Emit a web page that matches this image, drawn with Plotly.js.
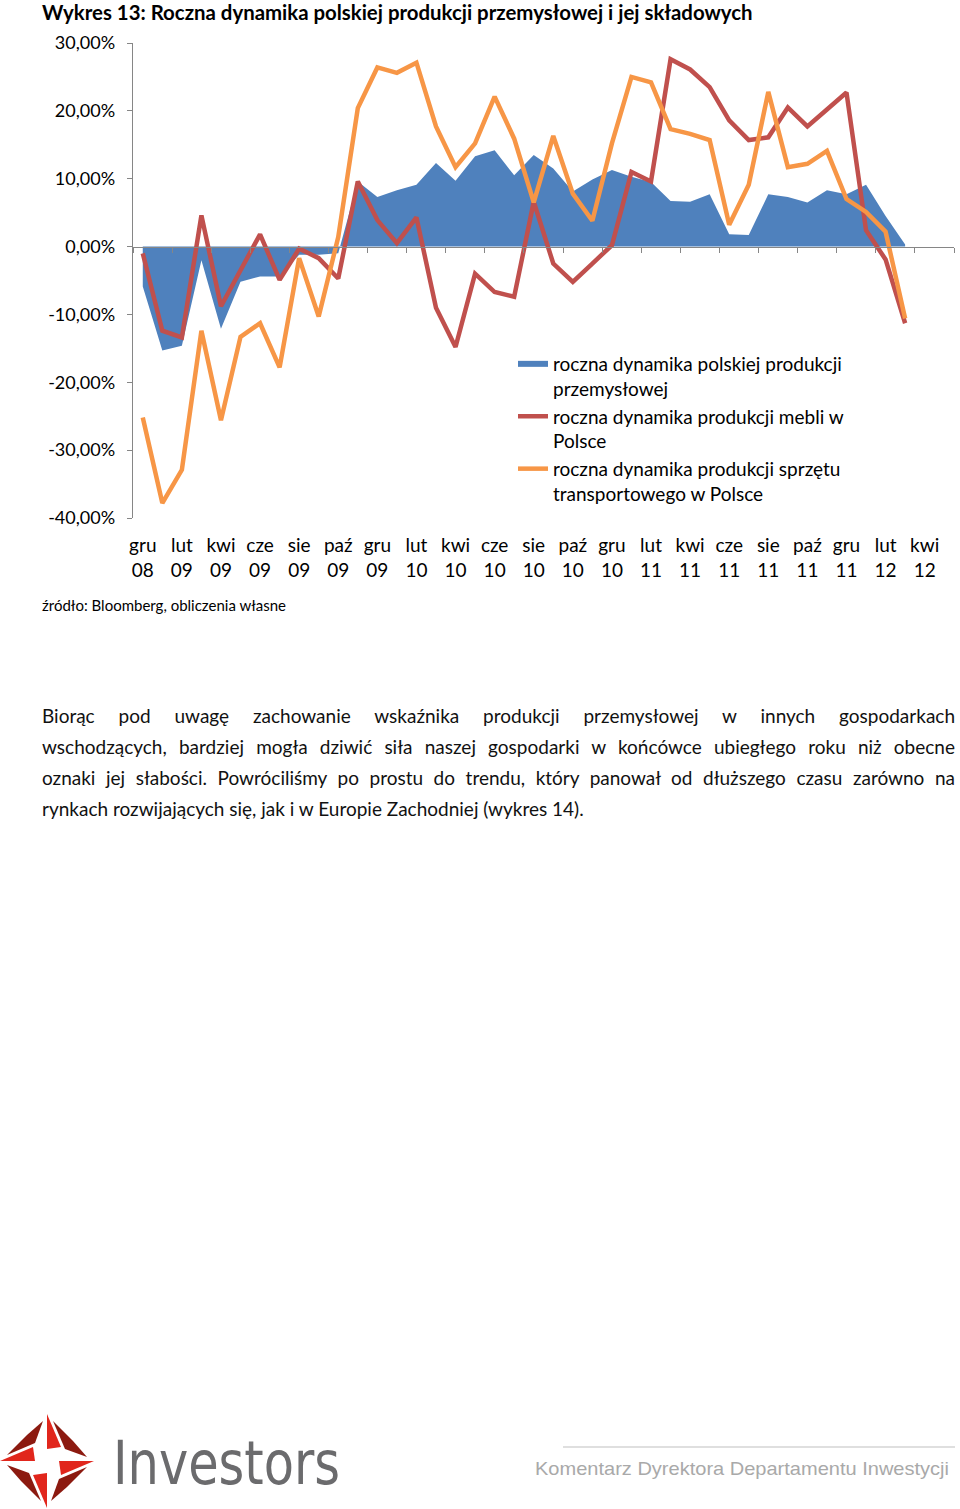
<!DOCTYPE html>
<html>
<head>
<meta charset="utf-8">
<script src="https://cdn.plot.ly/plotly-3.0.1.min.js"></script>
<style>
  html, body { margin: 0; padding: 0; background: #fff; }
  body { width: 960px; height: 1509px; position: relative; overflow: hidden; font-family: Lato, "Open Sans", sans-serif; }
  #chart { position: absolute; left: 0; top: 0; width: 960px; height: 640px; }
  #source { position: absolute; left: 42px; top: 596px; font-size: 15px; color: #000; white-space: nowrap; }
  #para { position: absolute; left: 42px; top: 700px; width: 913px; font-size: 19px; line-height: 31px; color: #111; }
  #para div { white-space: nowrap; text-align: justify; text-align-last: justify; }
  #para div.last { text-align-last: left; }
  #footer { position: absolute; left: 0; top: 1400px; }
</style>
</head>
<body>
<div id="chart"></div>
<div id="source">źródło: Bloomberg, obliczenia własne</div>
<div id="para">
  <div>Biorąc pod uwagę zachowanie wskaźnika produkcji przemysłowej w innych gospodarkach</div>
  <div>wschodzących, bardziej mogła dziwić siła naszej gospodarki w końcówce ubiegłego roku niż obecne</div>
  <div>oznaki jej słabości. Powróciliśmy po prostu do trendu, który panował od dłuższego czasu zarówno na</div>
  <div class="last">rynkach rozwijających się, jak i w Europie Zachodniej (wykres 14).</div>
</div>
<svg id="footer" width="960" height="109" xmlns="http://www.w3.org/2000/svg">
  <g transform="translate(47,61)">
    <g id="arm">
      <polygon points="0,-47 14,-14 0,-12" fill="#e1261c"/>
      <polygon points="-4,-40 -12,-18 -40,-6 -20,-26" fill="#8c1a10"/>
    </g>
    <use href="#arm" transform="rotate(90)"/>
    <use href="#arm" transform="rotate(180)"/>
    <use href="#arm" transform="rotate(270)"/>
  </g>
  <text x="113" y="84" font-family="'DejaVu Sans Condensed', 'Liberation Sans Narrow', 'DejaVu Sans', sans-serif" font-size="60" fill="#6b6b6d" textLength="227" lengthAdjust="spacingAndGlyphs">Investors</text>
  <line x1="563" y1="47" x2="955" y2="47" stroke="#d4d4d4" stroke-width="1.5"/>
  <text x="535" y="75" font-family="'Liberation Sans Narrow', 'Liberation Sans', Arial, sans-serif" font-size="19" fill="#a9a9a9" textLength="414" lengthAdjust="spacingAndGlyphs">Komentarz Dyrektora Departamentu Inwestycji</text>
</svg>
<script>
const months = ["gru 08","sty 09","lut 09","mar 09","kwi 09","maj 09","cze 09","lip 09","sie 09","wrz 09","paź 09","lis 09",
  "gru 09","sty 10","lut 10","mar 10","kwi 10","maj 10","cze 10","lip 10","sie 10","wrz 10","paź 10","lis 10",
  "gru 10","sty 11","lut 11","mar 11","kwi 11","maj 11","cze 11","lip 11","sie 11","wrz 11","paź 11","lis 11",
  "gru 11","sty 12","lut 12","mar 12","kwi 12","maj 12"];
const tickLabels = ["gru<br>08","lut<br>09","kwi<br>09","cze<br>09","sie<br>09","paź<br>09","gru<br>09","lut<br>10","kwi<br>10","cze<br>10","sie<br>10","paź<br>10","gru<br>10","lut<br>11","kwi<br>11","cze<br>11","sie<br>11","paź<br>11","gru<br>11","lut<br>12","kwi<br>12"];
const yTickValues = [-40, -30, -20, -10, 0, 10, 20, 30];
const yTickLabels = ["-40,00%","-30,00%","-20,00%","-10,00%","0,00%","10,00%","20,00%","30,00%"];

const production = [-5.9,-15.3,-14.6,-2.0,-12.1,-5.2,-4.4,-4.4,-1.2,-1.2,-1.0,
  9.6,7.3,8.3,9.1,12.3,9.7,13.3,14.2,10.5,13.5,11.5,8.1,9.9,11.3,10.3,
  9.5,6.7,6.6,7.7,1.8,1.7,7.7,7.3,6.5,8.3,7.7,9.1,4.5,0.3];
const furniture = [-1.0,-12.4,-13.4,4.6,-8.8,-3.5,1.8,-4.9,-0.3,-1.7,-4.7,
  9.6,3.9,0.5,4.3,-9.0,-14.8,-4.0,-6.7,-7.4,6.6,-2.5,-5.2,-2.5,0.2,11.0,9.6,
  27.6,26.1,23.5,18.6,15.7,16.1,20.5,17.7,20.2,22.7,2.4,-1.9,-11.3];
const transport = [-25.2,-37.8,-32.9,-12.4,-25.6,-13.3,-11.3,-17.8,-1.7,-10.3,1.4,
  20.4,26.4,25.6,27.1,17.7,11.7,15.2,22.1,15.9,6.5,16.3,7.8,3.8,15.2,25.0,24.2,17.3,
  16.6,15.7,3.2,9.1,22.8,11.7,12.2,14.1,7.0,5.1,2.2,-10.6];

const seriesNames = [
  "roczna dynamika polskiej produkcji<br>przemysłowej",
  "roczna dynamika produkcji mebli w<br>Polsce",
  "roczna dynamika produkcji sprzętu<br>transportowego w Polsce"
];

const FONT = "Lato, 'Open Sans', sans-serif";
const AXIS_GRAY = "#868686";

const traces = [
  { x: months.slice(0, production.length), y: production, name: seriesNames[0], type: "scatter",
    mode: "none", fill: "tozeroy", fillcolor: "#4F81BD", hoverinfo: "skip" },
  { x: months.slice(0, furniture.length), y: furniture, name: seriesNames[1], type: "scatter",
    mode: "lines", line: { color: "#C0504D", width: 4.5 }, hoverinfo: "skip" },
  { x: months.slice(0, transport.length), y: transport, name: seriesNames[2], type: "scatter",
    mode: "lines", line: { color: "#F79646", width: 4.5 }, hoverinfo: "skip" },
  { x: months.map((m, i) => i), y: months.map(() => null), xaxis: "x2", yaxis: "y",
    type: "scatter", mode: "markers", showlegend: false, hoverinfo: "skip" }
];

const layout = {
  width: 960, height: 640,
  margin: { l: 133, r: 6, t: 43, b: 122 },
  paper_bgcolor: "#fff", plot_bgcolor: "#fff",
  font: { family: FONT, color: "#000" },
  showlegend: true,
  title: {
    text: "Wykres 13: Roczna dynamika polskiej produkcji przemysłowej i jej składowych",
    font: { family: FONT, size: 20.4, weight: "bold", color: "#000" },
    xref: "container", x: 42 / 960, xanchor: "left",
    yref: "container", y: 1 - 13 / 640, yanchor: "middle"
  },
  xaxis: {
    type: "category", categoryorder: "array", categoryarray: months,
    range: [-0.5, months.length - 0.5],
    tickmode: "array", tickvals: months.filter((m, i) => i % 2 === 0), ticktext: tickLabels,
    ticks: "", showline: false, showgrid: false, zeroline: false,
    tickfont: { family: FONT, size: 19, color: "#000" }, ticklabelstandoff: 14,
    fixedrange: true
  },
  xaxis2: {
    type: "linear", overlaying: "x", anchor: "free", position: 40 / 70, side: "bottom",
    range: [-0.5, months.length - 0.5], tickmode: "linear", tick0: -0.5, dtick: 2,
    ticks: "outside", ticklen: 5, tickcolor: AXIS_GRAY, showticklabels: false,
    showline: true, linecolor: AXIS_GRAY, linewidth: 1.3, showgrid: false, zeroline: false
  },
  yaxis: {
    range: [-40, 30], tickmode: "array", tickvals: yTickValues, ticktext: yTickLabels,
    ticks: "outside", ticklen: 5, tickcolor: AXIS_GRAY, showline: true, linecolor: AXIS_GRAY, linewidth: 1.3,
    showgrid: false, zeroline: false,
    tickfont: { family: FONT, size: 18, color: "#000" }, ticklabelstandoff: 8
  },
  legend: {
    x: (513 - 133) / 821, xanchor: "left", y: (518 - 345) / 475, yanchor: "top",
    valign: "top", bgcolor: "rgba(0,0,0,0)", font: { family: FONT, size: 19, color: "#000" },
    traceorder: "normal"
  }
};

Plotly.newPlot("chart", traces, layout, { staticPlot: true, displayModeBar: false });
</script>
</body>
</html>
